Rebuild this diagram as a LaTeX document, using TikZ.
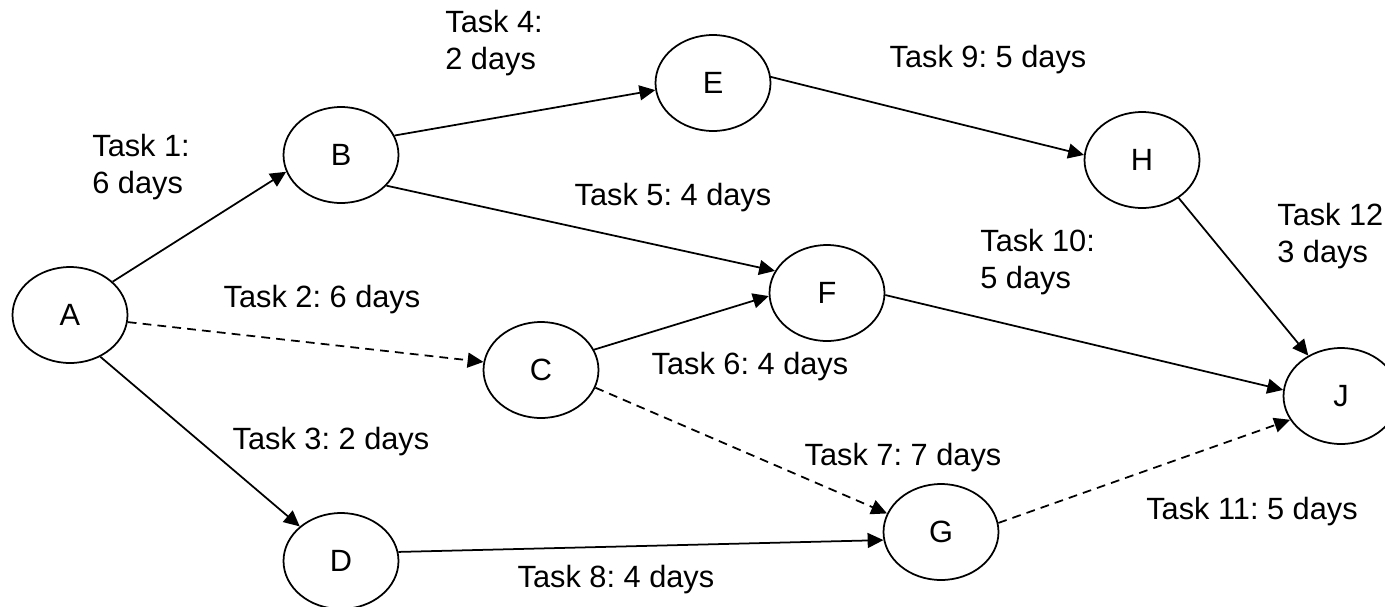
\documentclass[tikz,border=0pt]{standalone}
\usepackage{fontspec}
\setmainfont{Liberation Sans}
\usetikzlibrary{arrows.meta}
\usetikzlibrary{shapes.geometric}

\begin{document}
\frenchspacing
\begin{tikzpicture}[
    x=0.02cm, y=-0.02cm,
    event/.style={
        ellipse, draw, line width=1pt,
        minimum width=2.3cm, minimum height=1.92cm,
        inner sep=0pt, font=\fontsize{17.5}{21.5}\selectfont
    },
    task/.style={
        -{Triangle[length=9pt,width=8.5pt]}, line width=1pt
    },
    slack/.style={
        task, dash pattern=on 5pt off 3.5pt
    },
    duration/.style={
        inner sep=0pt, align=left, font=\fontsize{17.5}{21.5}\selectfont
    }
    ]

    \useasboundingbox (0,0) rectangle (1385,606);
    \clip (0,0) rectangle (1385,606);

    % events
    \node [event] (A) at (70,315)   {A};
    \node [event] (B) at (341,155)  {B};
    \node [event] (C) at (541,370)  {C};
    \node [event] (D) at (341,561)  {D};
    \node [event] (E) at (713,83)   {E};
    \node [event] (F) at (827,293)  {F};
    \node [event] (G) at (941,532)  {G};
    \node [event] (H) at (1142,160) {H};
    \node [event] (J) at (1341,396) {J};

    % tasks, attached at fixed angles on the ellipses
    \draw [task]  (A.38)  -- (B.-163);
    \draw [slack] (A.-7)  -- (C.172);
    \draw [task]  (A.-54) -- (D.140);
    \draw [task]  (B.20)  -- (E.187);
    \draw [task]  (B.-34) -- (F.157);
    \draw [task]  (C.21)  -- (F.183);
    \draw [slack] (C.-18) -- (G.161);
    \draw [task]  (D.9)   -- (G.188);
    \draw [task]  (E.6)   -- (H.175);
    \draw [task]  (F.-2)  -- (J.174);
    \draw [slack] (G.9)   -- (J.-155);
    \draw [task]  (H.-46) -- (J.129);

    % durations
    \node [duration, anchor=west] (t1)  at (92,167)   {Task 1:\\6 days};
    \node [duration]              (t2)  at (322,300)  {Task 2: 6 days};
    \node [duration]              (t3)  at (331,442)  {Task 3: 2 days};
    \node [duration, anchor=west] (t4)  at (445,43)   {Task 4:\\2 days};
    \node [duration]              (t5)  at (673,198)  {Task 5: 4 days};
    \node [duration]              (t6)  at (750,367)  {Task 6: 4 days};
    \node [duration]              (t7)  at (903,458)  {Task 7: 7 days};
    \node [duration]              (t8)  at (616,580)  {Task 8: 4 days};
    \node [duration]              (t9)  at (988,60)   {Task 9: 5 days};
    \node [duration, anchor=west] (t10) at (980,262)  {Task 10:\\5 days};
    \node [duration]              (t11) at (1252,512) {Task 11: 5 days};
    \node [duration, anchor=west] (t12) at (1277,236) {Task 12\\3 days};
\end{tikzpicture}
\end{document}
